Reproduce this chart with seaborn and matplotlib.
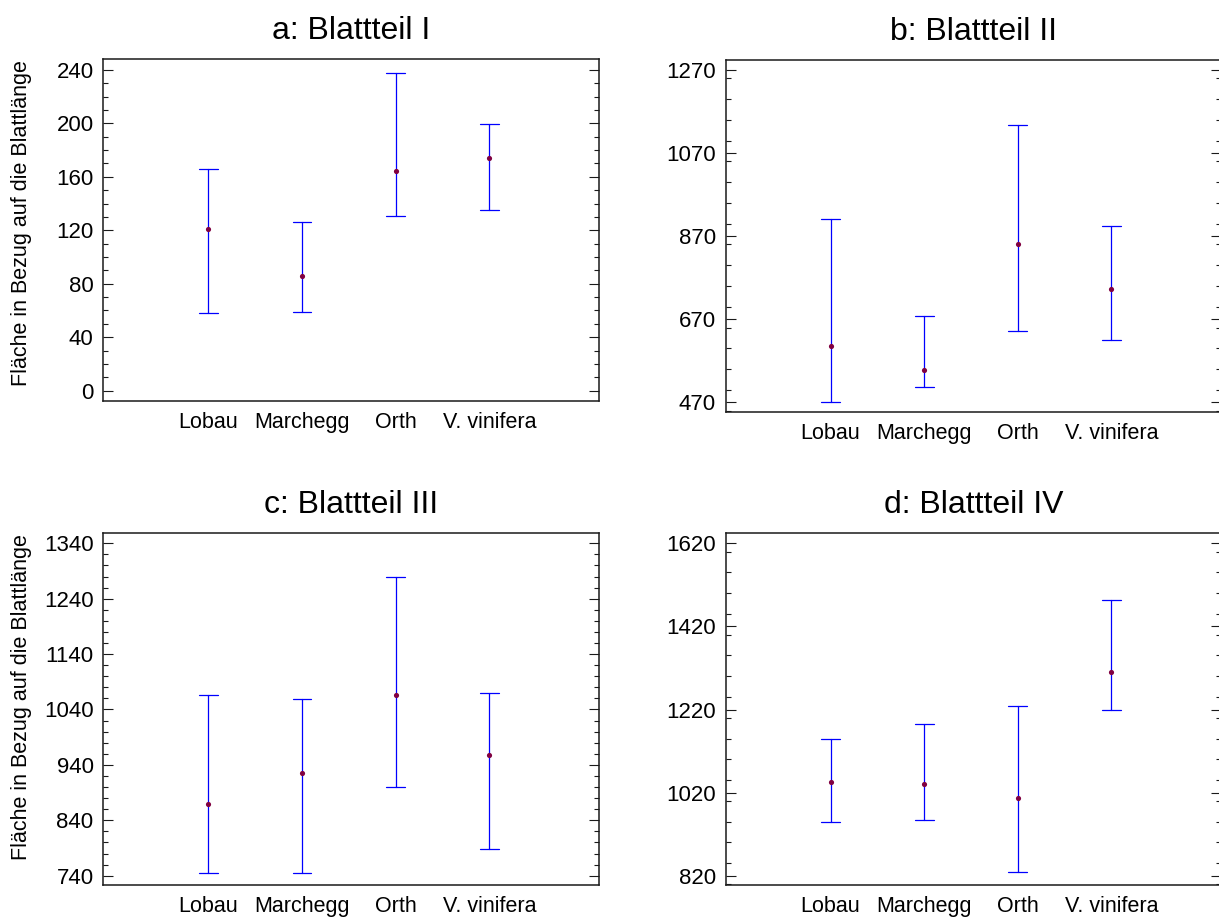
import numpy as np
import pandas as pd
import matplotlib
matplotlib.use("Agg")
import matplotlib.pyplot as plt
import seaborn as sns
from matplotlib.ticker import MultipleLocator

# ---------------- data ----------------
categories = ["Lobau", "Marchegg", "Orth", "V. vinifera"]
titles = ["a: Blattteil I", "b: Blattteil II", "c: Blattteil III", "d: Blattteil IV"]
ylabel_text = "Fläche in Bezug auf die Blattlänge"

mean_a = [120.7, 85.9, 164.3, 173.8]
lower_a = [58.0, 58.5, 130.7, 134.9]
upper_a = [166.1, 126.2, 237.3, 199.4]

mean_b = [605.6, 547.8, 851.0, 742.0]
lower_b = [470.0, 506.0, 641.0, 620.0]
upper_b = [911.4, 677.0, 1137.7, 895.0]

mean_c = [870.0, 924.8, 1065.6, 958.5]
lower_c = [744.8, 744.8, 900.7, 788.7]
upper_c = [1065.6, 1059.6, 1279.8, 1069.2]

mean_d = [1045.5, 1041.5, 1006.2, 1310.3]
lower_d = [950.0, 953.2, 828.0, 1218.0]
upper_d = [1148.2, 1185.9, 1227.6, 1482.8]

yticks_a = [0, 40, 80, 120, 160, 200, 240]
yticks_b = [470, 670, 870, 1070, 1270]
yticks_c = [740, 840, 940, 1040, 1140, 1240, 1340]
yticks_d = [820, 1020, 1220, 1420, 1620]

# ---------------- style ----------------
sns.set_style("ticks")
plt.rcParams["font.family"] = ["Liberation Sans", "DejaVu Sans"]
plt.rcParams["text.color"] = "black"
plt.rcParams["axes.labelcolor"] = "black"
plt.rcParams["xtick.labelcolor"] = "black"
plt.rcParams["ytick.labelcolor"] = "black"

W, H = 1219, 921
fig = plt.figure(figsize=(W / 100, H / 100), dpi=100)


def ax_rect(left, right, top, bottom):
    return [left / W, 1 - bottom / H, (right - left) / W, (bottom - top) / H]


panels = [
    dict(rect=ax_rect(103.3, 599.0, 59.5, 401.0), mean=mean_a, lo=lower_a, hi=upper_a,
         ticks=yticks_a, minor=10, ylim=(-7.7, 247.7), ylabel=True, ly=0.52),
    dict(rect=ax_rect(725.7, 1221.0, 60.0, 412.3), mean=mean_b, lo=lower_b, hi=upper_b,
         ticks=yticks_b, minor=50, ylim=(446, 1294), ylabel=False, ly=0.5),
    dict(rect=ax_rect(103.3, 599.0, 533.3, 885.3), mean=mean_c, lo=lower_c, hi=upper_c,
         ticks=yticks_c, minor=20, ylim=(722.7, 1358), ylabel=True, ly=0.534),
    dict(rect=ax_rect(725.7, 1221.0, 533.3, 885.3), mean=mean_d, lo=lower_d, hi=upper_d,
         ticks=yticks_d, minor=50, ylim=(797, 1644), ylabel=False, ly=0.5),
]

bar_color = "#0000ff"
dot_color = "#800040"
spine_color = "#1a1a1a"

for p, title in zip(panels, titles):
    ax = fig.add_axes(p["rect"])
    # long table: lower, mean, upper per category (median = mean, min/max = interval)
    rows = []
    for c, lo, m, hi in zip(categories, p["lo"], p["mean"], p["hi"]):
        rows += [(c, lo), (c, m), (c, hi)]
    df = pd.DataFrame(rows, columns=["group", "value"])
    df_mean = pd.DataFrame({"group": categories, "value": p["mean"]})

    sns.pointplot(data=df, x="group", y="value", order=categories,
                  estimator=np.median, errorbar=lambda v: (v.min(), v.max()),
                  color=bar_color, marker="", linestyle="none", capsize=0.2,
                  err_kws={"linewidth": 0.9}, ax=ax)
    sns.pointplot(data=df_mean, x="group", y="value", order=categories,
                  errorbar=None, color=dot_color, marker="o", markersize=1.7,
                  linestyle="none", ax=ax)

    ax.set_xlim(-1.12, 4.17)
    ax.set_ylim(*p["ylim"])
    ax.set_yticks(p["ticks"])
    ax.yaxis.set_minor_locator(MultipleLocator(p["minor"]))

    ax.tick_params(axis="y", which="both", direction="in", left=True, right=True,
                   labelsize=16, pad=7, colors=spine_color, labelcolor="black")
    ax.tick_params(axis="y", which="major", length=7.2, width=0.8)
    ax.tick_params(axis="y", which="minor", length=3.6, width=0.8)
    ax.tick_params(axis="x", which="both", length=0, labelsize=15.5, pad=8,
                   labelcolor="black")

    for s in ax.spines.values():
        s.set_visible(True)
        s.set_linewidth(1.1)
        s.set_color(spine_color)

    ax.set_xlabel("")
    if p["ylabel"]:
        ax.set_ylabel(ylabel_text, fontsize=15.5, color="black")
        ax.yaxis.set_label_coords(-0.144, p["ly"])
    else:
        ax.set_ylabel("")
    ax.set_title(title, fontsize=23, pad=14.5, color="black")

fig.savefig("out.png", dpi=100)
